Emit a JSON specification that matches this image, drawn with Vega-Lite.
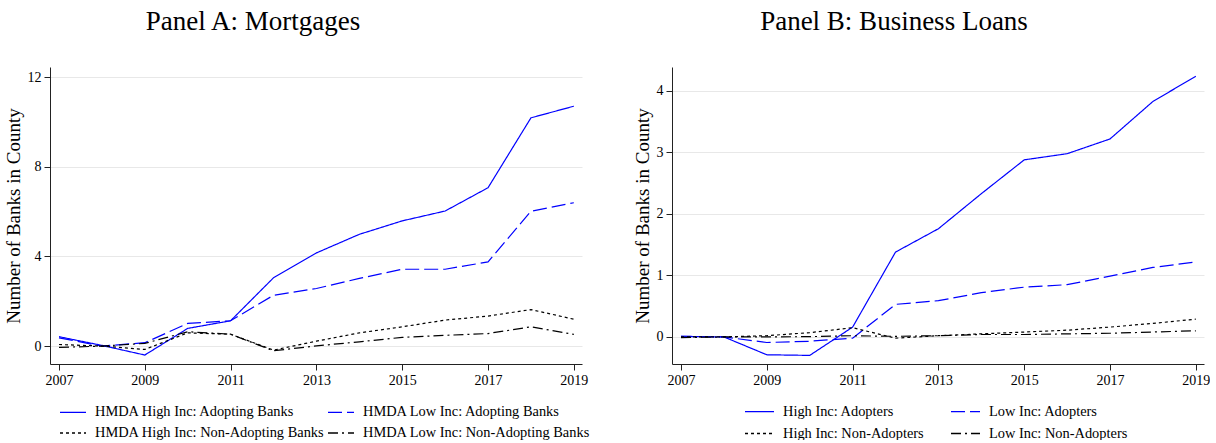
{
  "$schema": "https://vega.github.io/schema/vega-lite/v6.json",
  "padding": {"left": 4, "top": 8, "right": 0, "bottom": 0},
  "background": "white",
  "config": {
    "font": "Liberation Serif",
    "view": {"stroke": null},
    "axis": {"labelFont": "Liberation Serif", "titleFont": "Liberation Serif", "labelFontSize": 14, "titleFontSize": 19, "titleFontWeight": "normal", "labelColor": "#000", "titleColor": "#000", "domainColor": "#222", "tickColor": "#222", "tickSize": 6, "labelPadding": 3},
    "legend": {"labelFont": "Liberation Serif", "labelFontSize": 14.4, "labelColor": "#000", "labelLimit": 400},
    "title": {"font": "Liberation Serif", "fontSize": 27, "fontWeight": "normal", "color": "#000"}
  },
  "datasets": {
    "mort": [
      {"year": 2007, "value": 0.42, "series": "HMDA High Inc: Adopting Banks"},
      {"year": 2008, "value": 0.03, "series": "HMDA High Inc: Adopting Banks"},
      {"year": 2009, "value": -0.40, "series": "HMDA High Inc: Adopting Banks"},
      {"year": 2010, "value": 0.79, "series": "HMDA High Inc: Adopting Banks"},
      {"year": 2011, "value": 1.13, "series": "HMDA High Inc: Adopting Banks"},
      {"year": 2012, "value": 3.05, "series": "HMDA High Inc: Adopting Banks"},
      {"year": 2013, "value": 4.16, "series": "HMDA High Inc: Adopting Banks"},
      {"year": 2014, "value": 4.99, "series": "HMDA High Inc: Adopting Banks"},
      {"year": 2015, "value": 5.59, "series": "HMDA High Inc: Adopting Banks"},
      {"year": 2016, "value": 6.03, "series": "HMDA High Inc: Adopting Banks"},
      {"year": 2017, "value": 7.07, "series": "HMDA High Inc: Adopting Banks"},
      {"year": 2018, "value": 10.19, "series": "HMDA High Inc: Adopting Banks"},
      {"year": 2019, "value": 10.71, "series": "HMDA High Inc: Adopting Banks"},
      {"year": 2007, "value": 0.37, "series": "HMDA Low Inc: Adopting Banks"},
      {"year": 2008, "value": 0.0, "series": "HMDA Low Inc: Adopting Banks"},
      {"year": 2009, "value": 0.15, "series": "HMDA Low Inc: Adopting Banks"},
      {"year": 2010, "value": 1.01, "series": "HMDA Low Inc: Adopting Banks"},
      {"year": 2011, "value": 1.13, "series": "HMDA Low Inc: Adopting Banks"},
      {"year": 2012, "value": 2.27, "series": "HMDA Low Inc: Adopting Banks"},
      {"year": 2013, "value": 2.57, "series": "HMDA Low Inc: Adopting Banks"},
      {"year": 2014, "value": 3.02, "series": "HMDA Low Inc: Adopting Banks"},
      {"year": 2015, "value": 3.43, "series": "HMDA Low Inc: Adopting Banks"},
      {"year": 2016, "value": 3.43, "series": "HMDA Low Inc: Adopting Banks"},
      {"year": 2017, "value": 3.76, "series": "HMDA Low Inc: Adopting Banks"},
      {"year": 2018, "value": 6.02, "series": "HMDA Low Inc: Adopting Banks"},
      {"year": 2019, "value": 6.40, "series": "HMDA Low Inc: Adopting Banks"},
      {"year": 2007, "value": 0.07, "series": "HMDA High Inc: Non-Adopting Banks"},
      {"year": 2008, "value": 0.0, "series": "HMDA High Inc: Non-Adopting Banks"},
      {"year": 2009, "value": -0.15, "series": "HMDA High Inc: Non-Adopting Banks"},
      {"year": 2010, "value": 0.59, "series": "HMDA High Inc: Non-Adopting Banks"},
      {"year": 2011, "value": 0.53, "series": "HMDA High Inc: Non-Adopting Banks"},
      {"year": 2012, "value": -0.18, "series": "HMDA High Inc: Non-Adopting Banks"},
      {"year": 2013, "value": 0.22, "series": "HMDA High Inc: Non-Adopting Banks"},
      {"year": 2014, "value": 0.59, "series": "HMDA High Inc: Non-Adopting Banks"},
      {"year": 2015, "value": 0.86, "series": "HMDA High Inc: Non-Adopting Banks"},
      {"year": 2016, "value": 1.16, "series": "HMDA High Inc: Non-Adopting Banks"},
      {"year": 2017, "value": 1.34, "series": "HMDA High Inc: Non-Adopting Banks"},
      {"year": 2018, "value": 1.63, "series": "HMDA High Inc: Non-Adopting Banks"},
      {"year": 2019, "value": 1.20, "series": "HMDA High Inc: Non-Adopting Banks"},
      {"year": 2007, "value": -0.06, "series": "HMDA Low Inc: Non-Adopting Banks"},
      {"year": 2008, "value": 0.0, "series": "HMDA Low Inc: Non-Adopting Banks"},
      {"year": 2009, "value": 0.12, "series": "HMDA Low Inc: Non-Adopting Banks"},
      {"year": 2010, "value": 0.64, "series": "HMDA Low Inc: Non-Adopting Banks"},
      {"year": 2011, "value": 0.53, "series": "HMDA Low Inc: Non-Adopting Banks"},
      {"year": 2012, "value": -0.21, "series": "HMDA Low Inc: Non-Adopting Banks"},
      {"year": 2013, "value": 0.01, "series": "HMDA Low Inc: Non-Adopting Banks"},
      {"year": 2014, "value": 0.19, "series": "HMDA Low Inc: Non-Adopting Banks"},
      {"year": 2015, "value": 0.39, "series": "HMDA Low Inc: Non-Adopting Banks"},
      {"year": 2016, "value": 0.48, "series": "HMDA Low Inc: Non-Adopting Banks"},
      {"year": 2017, "value": 0.56, "series": "HMDA Low Inc: Non-Adopting Banks"},
      {"year": 2018, "value": 0.86, "series": "HMDA Low Inc: Non-Adopting Banks"},
      {"year": 2019, "value": 0.52, "series": "HMDA Low Inc: Non-Adopting Banks"}
    ],
    "biz": [
      {"year": 2007, "value": 0.01, "series": "High Inc: Adopters"},
      {"year": 2008, "value": 0.0, "series": "High Inc: Adopters"},
      {"year": 2009, "value": -0.29, "series": "High Inc: Adopters"},
      {"year": 2010, "value": -0.30, "series": "High Inc: Adopters"},
      {"year": 2011, "value": 0.16, "series": "High Inc: Adopters"},
      {"year": 2012, "value": 1.38, "series": "High Inc: Adopters"},
      {"year": 2013, "value": 1.76, "series": "High Inc: Adopters"},
      {"year": 2014, "value": 2.33, "series": "High Inc: Adopters"},
      {"year": 2015, "value": 2.88, "series": "High Inc: Adopters"},
      {"year": 2016, "value": 2.98, "series": "High Inc: Adopters"},
      {"year": 2017, "value": 3.22, "series": "High Inc: Adopters"},
      {"year": 2018, "value": 3.83, "series": "High Inc: Adopters"},
      {"year": 2019, "value": 4.24, "series": "High Inc: Adopters"},
      {"year": 2007, "value": 0.01, "series": "Low Inc: Adopters"},
      {"year": 2008, "value": 0.0, "series": "Low Inc: Adopters"},
      {"year": 2009, "value": -0.09, "series": "Low Inc: Adopters"},
      {"year": 2010, "value": -0.07, "series": "Low Inc: Adopters"},
      {"year": 2011, "value": -0.02, "series": "Low Inc: Adopters"},
      {"year": 2012, "value": 0.53, "series": "Low Inc: Adopters"},
      {"year": 2013, "value": 0.59, "series": "Low Inc: Adopters"},
      {"year": 2014, "value": 0.72, "series": "Low Inc: Adopters"},
      {"year": 2015, "value": 0.81, "series": "Low Inc: Adopters"},
      {"year": 2016, "value": 0.85, "series": "Low Inc: Adopters"},
      {"year": 2017, "value": 0.99, "series": "Low Inc: Adopters"},
      {"year": 2018, "value": 1.13, "series": "Low Inc: Adopters"},
      {"year": 2019, "value": 1.22, "series": "Low Inc: Adopters"},
      {"year": 2007, "value": 0.0, "series": "High Inc: Non-Adopters"},
      {"year": 2008, "value": 0.0, "series": "High Inc: Non-Adopters"},
      {"year": 2009, "value": 0.02, "series": "High Inc: Non-Adopters"},
      {"year": 2010, "value": 0.07, "series": "High Inc: Non-Adopters"},
      {"year": 2011, "value": 0.15, "series": "High Inc: Non-Adopters"},
      {"year": 2012, "value": -0.02, "series": "High Inc: Non-Adopters"},
      {"year": 2013, "value": 0.02, "series": "High Inc: Non-Adopters"},
      {"year": 2014, "value": 0.05, "series": "High Inc: Non-Adopters"},
      {"year": 2015, "value": 0.08, "series": "High Inc: Non-Adopters"},
      {"year": 2016, "value": 0.11, "series": "High Inc: Non-Adopters"},
      {"year": 2017, "value": 0.16, "series": "High Inc: Non-Adopters"},
      {"year": 2018, "value": 0.22, "series": "High Inc: Non-Adopters"},
      {"year": 2019, "value": 0.29, "series": "High Inc: Non-Adopters"},
      {"year": 2007, "value": -0.01, "series": "Low Inc: Non-Adopters"},
      {"year": 2008, "value": 0.0, "series": "Low Inc: Non-Adopters"},
      {"year": 2009, "value": 0.0, "series": "Low Inc: Non-Adopters"},
      {"year": 2010, "value": 0.005, "series": "Low Inc: Non-Adopters"},
      {"year": 2011, "value": 0.02, "series": "Low Inc: Non-Adopters"},
      {"year": 2012, "value": 0.01, "series": "Low Inc: Non-Adopters"},
      {"year": 2013, "value": 0.02, "series": "Low Inc: Non-Adopters"},
      {"year": 2014, "value": 0.04, "series": "Low Inc: Non-Adopters"},
      {"year": 2015, "value": 0.04, "series": "Low Inc: Non-Adopters"},
      {"year": 2016, "value": 0.05, "series": "Low Inc: Non-Adopters"},
      {"year": 2017, "value": 0.06, "series": "Low Inc: Non-Adopters"},
      {"year": 2018, "value": 0.08, "series": "Low Inc: Non-Adopters"},
      {"year": 2019, "value": 0.10, "series": "Low Inc: Non-Adopters"}
    ]
  },
  "spacing": 42,
  "resolve": {"scale": {"color": "independent", "strokeDash": "independent"}, "legend": {"color": "independent", "strokeDash": "independent"}},
  "hconcat": [
    {
      "title": {"text": "Panel A: Mortgages", "dx": -63, "offset": 31},
      "width": 532,
      "height": 297,
      "data": {"name": "mort"},
      "mark": {"type": "line", "strokeWidth": 1.2},
      "encoding": {
        "x": {"field": "year", "type": "quantitative", "scale": {"domain": [2006.79, 2019.19], "nice": false, "zero": false},
              "axis": {"values": [2007, 2009, 2011, 2013, 2015, 2017, 2019], "format": "d", "grid": false, "title": null, "labelFlush": false}},
        "y": {"field": "value", "type": "quantitative", "scale": {"domain": [-0.8, 12.46], "nice": false, "zero": false},
              "axis": {"values": [0, 4, 8, 12], "grid": true, "gridColor": "#e8e8e8", "title": "Number of Banks in County", "titlePadding": 4, "labelFlush": false}},
        "color": {"field": "series", "type": "nominal",
                  "scale": {"domain": ["HMDA High Inc: Adopting Banks", "HMDA High Inc: Non-Adopting Banks", "HMDA Low Inc: Adopting Banks", "HMDA Low Inc: Non-Adopting Banks"], "range": ["#0000ff", "#000000", "#0000ff", "#000000"]},
                  "legend": {"title": null, "orient": "none", "legendX": 9, "legendY": 331, "columns": 2, "symbolType": "stroke", "symbolSize": 676, "symbolStrokeWidth": 1.3, "labelOffset": 8, "columnPadding": 0, "rowPadding": -7}},
        "strokeDash": {"field": "series", "type": "nominal",
                  "scale": {"domain": ["HMDA High Inc: Adopting Banks", "HMDA High Inc: Non-Adopting Banks", "HMDA Low Inc: Adopting Banks", "HMDA Low Inc: Non-Adopting Banks"], "range": [[1, 0], [3, 3], [14, 5], [10, 4, 2, 4]]},
                  "legend": {"title": null, "orient": "none", "legendX": 9, "legendY": 331, "columns": 2, "symbolType": "stroke", "symbolSize": 676, "symbolStrokeWidth": 1.3, "labelOffset": 8, "columnPadding": 0, "rowPadding": -7}}
      }
    },
    {
      "title": {"text": "Panel B: Business Loans", "dx": -44, "offset": 31},
      "width": 532,
      "height": 297,
      "data": {"name": "biz"},
      "mark": {"type": "line", "strokeWidth": 1.2},
      "encoding": {
        "x": {"field": "year", "type": "quantitative", "scale": {"domain": [2006.79, 2019.19], "nice": false, "zero": false},
              "axis": {"values": [2007, 2009, 2011, 2013, 2015, 2017, 2019], "format": "d", "grid": false, "title": null, "labelFlush": false}},
        "y": {"field": "value", "type": "quantitative", "scale": {"domain": [-0.44, 4.39], "nice": false, "zero": false},
              "axis": {"values": [0, 1, 2, 3, 4], "grid": true, "gridColor": "#e8e8e8", "title": "Number of Banks in County", "titlePadding": 4, "labelFlush": false}},
        "color": {"field": "series", "type": "nominal",
                  "scale": {"domain": ["High Inc: Adopters", "High Inc: Non-Adopters", "Low Inc: Adopters", "Low Inc: Non-Adopters"], "range": ["#0000ff", "#000000", "#0000ff", "#000000"]},
                  "legend": {"title": null, "orient": "none", "legendX": 72, "legendY": 329, "columns": 2, "symbolType": "stroke", "symbolSize": 841, "symbolStrokeWidth": 1.3, "labelOffset": 8, "columnPadding": 24, "rowPadding": -10}},
        "strokeDash": {"field": "series", "type": "nominal",
                  "scale": {"domain": ["High Inc: Adopters", "High Inc: Non-Adopters", "Low Inc: Adopters", "Low Inc: Non-Adopters"], "range": [[1, 0], [3, 3], [14, 5], [10, 4, 2, 4]]},
                  "legend": {"title": null, "orient": "none", "legendX": 72, "legendY": 329, "columns": 2, "symbolType": "stroke", "symbolSize": 841, "symbolStrokeWidth": 1.3, "labelOffset": 8, "columnPadding": 24, "rowPadding": -10}}
      }
    }
  ]
}
